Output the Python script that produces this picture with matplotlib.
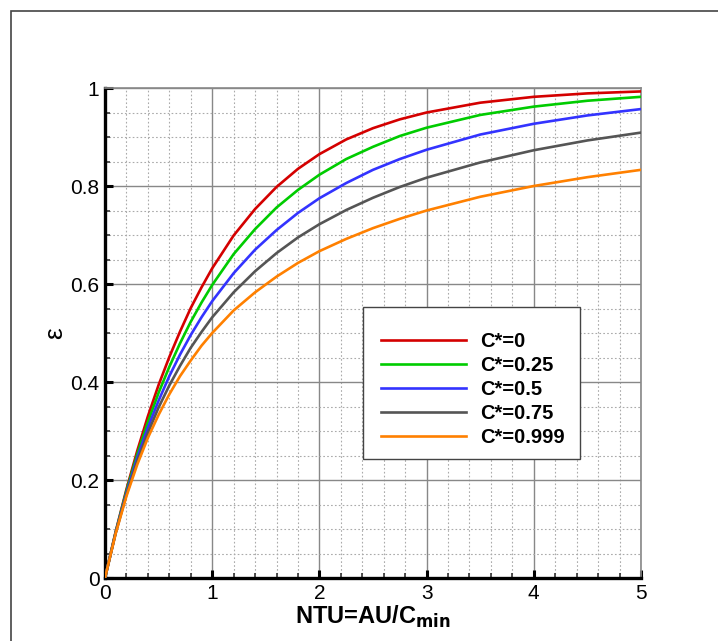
#!/usr/bin/env python3
import matplotlib
import matplotlib.pyplot as plt
from matplotlib.patches import Rectangle
from matplotlib.ticker import MultipleLocator

matplotlib.use("Agg")

plt.rcParams["font.family"] = ["Liberation Sans", "DejaVu Sans"]

# NTU sample points
ntu = [0, 0.1, 0.2, 0.3, 0.4, 0.5, 0.6, 0.7, 0.8, 0.9, 1.0, 1.2, 1.4, 1.6,
       1.8, 2.0, 2.25, 2.5, 2.75, 3.0, 3.5, 4.0, 4.5, 5.0]

eps_c0 = [0, 0.095, 0.181, 0.259, 0.330, 0.394, 0.451, 0.503, 0.551, 0.593,
          0.632, 0.699, 0.753, 0.798, 0.835, 0.865, 0.895, 0.918, 0.936,
          0.950, 0.970, 0.982, 0.989, 0.993]
eps_c025 = [0, 0.094, 0.178, 0.252, 0.318, 0.378, 0.431, 0.479, 0.523, 0.562,
            0.598, 0.661, 0.712, 0.756, 0.792, 0.823, 0.855, 0.880, 0.902,
            0.919, 0.945, 0.962, 0.974, 0.982]
eps_c05 = [0, 0.093, 0.174, 0.245, 0.307, 0.362, 0.412, 0.456, 0.496, 0.532,
           0.565, 0.622, 0.670, 0.710, 0.745, 0.775, 0.806, 0.833, 0.855,
           0.874, 0.905, 0.927, 0.944, 0.957]
eps_c075 = [0, 0.092, 0.170, 0.238, 0.296, 0.348, 0.393, 0.433, 0.470, 0.502,
            0.532, 0.583, 0.626, 0.663, 0.695, 0.722, 0.751, 0.776, 0.798,
            0.817, 0.848, 0.873, 0.893, 0.909]
eps_c0999 = [0, 0.091, 0.167, 0.231, 0.286, 0.333, 0.375, 0.412, 0.444, 0.474,
             0.500, 0.546, 0.583, 0.615, 0.643, 0.667, 0.692, 0.714, 0.733,
             0.750, 0.778, 0.800, 0.818, 0.833]

series = [
    ("C*=0", eps_c0, "#d40000"),
    ("C*=0.25", eps_c025, "#00cc00"),
    ("C*=0.5", eps_c05, "#3333ff"),
    ("C*=0.75", eps_c075, "#555555"),
    ("C*=0.999", eps_c0999, "#ff8000"),
]

fig = plt.figure(figsize=(7.18, 6.41), dpi=100)
ax = fig.add_axes([105 / 718, 63 / 641, 536 / 718, 490 / 641])

# outer frame, only top and left edges visible
fig.patches.append(Rectangle((11 / 718, -0.1), 1.2, 1.1 - 11 / 641,
                             transform=fig.transFigure, fill=False,
                             edgecolor="#444444", linewidth=1.2))

for label, eps, color in series:
    ax.plot(ntu, eps, color=color, linewidth=1.9, label=label, zorder=5)

ax.set_xlim(0, 5)
ax.set_ylim(0, 1)
ax.xaxis.set_major_locator(MultipleLocator(1))
ax.xaxis.set_minor_locator(MultipleLocator(0.2))
ax.yaxis.set_major_locator(MultipleLocator(0.2))
ax.yaxis.set_minor_locator(MultipleLocator(0.05))
ax.set_xticks([0, 1, 2, 3, 4, 5])
ax.set_xticklabels(["0", "1", "2", "3", "4", "5"])
ax.set_yticks([0, 0.2, 0.4, 0.6, 0.8, 1.0])
ax.set_yticklabels(["0", "0.2", "0.4", "0.6", "0.8", "1"])

ax.grid(which="major", color="#888888", linewidth=1.0, linestyle="-")
ax.grid(which="minor", color="#aaaaaa", linewidth=0.8, linestyle=(0, (1.5, 2)))
ax.set_axisbelow(True)

ax.tick_params(which="major", direction="in", length=6, width=2.2,
               labelsize=15, pad=4, color="black")
ax.tick_params(which="minor", direction="in", length=3.5, width=1.2,
               color="#333333")

for side in ("left", "bottom"):
    ax.spines[side].set_linewidth(2.4)
    ax.spines[side].set_color("black")
for side in ("top", "right"):
    ax.spines[side].set_linewidth(1.2)
    ax.spines[side].set_color("#888888")

ax.set_xlabel(r"NTU=AU/C$_{\mathbf{min}}$", fontsize=17, fontweight="bold",
              labelpad=1)
ax.set_ylabel("ε", fontsize=19, labelpad=2)

# legend box drawn separately so its padding can match the original
ax.add_patch(Rectangle((258 / 536, 119 / 490), 217 / 536, 152 / 490,
                       transform=ax.transAxes, facecolor="white",
                       edgecolor="#444444", linewidth=1.0, zorder=6))
leg = ax.legend(loc="upper left", bbox_to_anchor=(276 / 536, 246 / 490),
                frameon=False, prop={"weight": "bold", "size": 14.5},
                handlelength=4.2, handletextpad=0.7, labelspacing=0.25,
                borderpad=0, borderaxespad=0)
leg.set_zorder(7)
for line in leg.get_lines():
    line.set_linewidth(1.9)

fig.savefig("out.png", dpi=100)
